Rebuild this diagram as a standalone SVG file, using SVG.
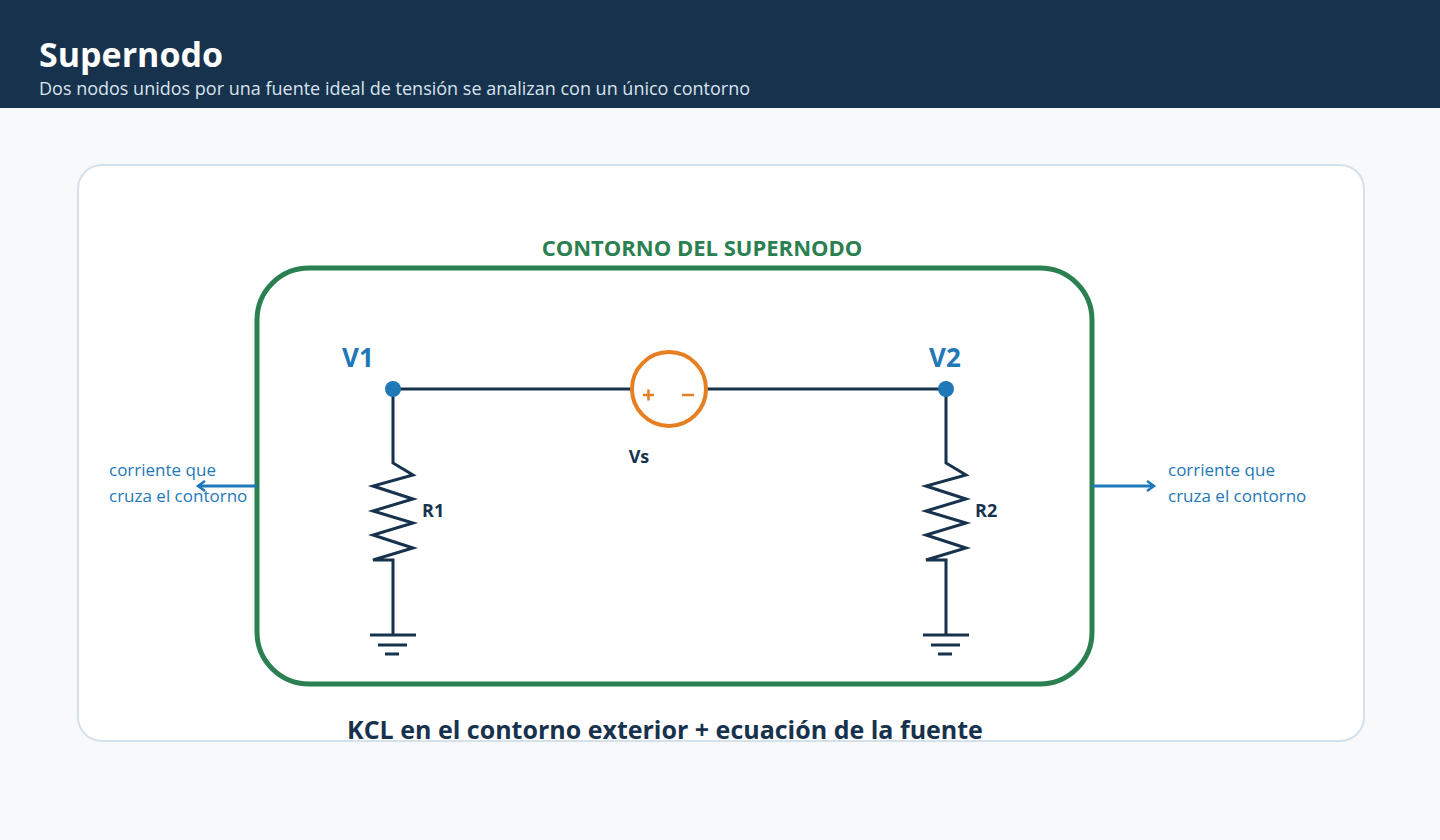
<svg xmlns="http://www.w3.org/2000/svg" width="1440" height="840" viewBox="0 0 1440 840">
<defs>
<style>
.w{stroke:#17324d;stroke-width:3;fill:none}
.lbl{font-family:"Open Sans","Noto Sans",sans-serif;font-weight:700;fill:#17324d}
.blue{font-family:"Open Sans","Noto Sans",sans-serif;fill:#1f78b8;font-size:17px}
.arr{stroke:#1f78b8;stroke-width:3;fill:none}
</style>
<marker id="ah" markerWidth="12" markerHeight="12" refX="9" refY="6" orient="auto" markerUnits="userSpaceOnUse"><path d="M2,1 L9,6 L2,11" fill="none" stroke="#1f78b8" stroke-width="2.5"/></marker>
</defs>
<rect width="1440" height="840" fill="#f7f9fb"/>
<rect width="1440" height="108" fill="#17324d"/>
<text x="39" y="67" font-family="Open Sans,Noto Sans,sans-serif" font-weight="700" font-size="34" fill="#fff">Supernodo</text>
<text x="39" y="95" font-family="Open Sans,Noto Sans,sans-serif" font-size="18" fill="#d8e3ee">Dos nodos unidos por una fuente ideal de tensión se analizan con un único contorno</text>
<rect x="78" y="165" width="1286" height="576" rx="24" fill="#fff" stroke="#d5e1ea" stroke-width="2"/>
<g id="contorno">
<rect x="257" y="268" width="835" height="416" rx="52" fill="none" stroke="#2a8050" stroke-width="5"/>
<text x="702" y="256" text-anchor="middle" font-family="Open Sans,Noto Sans,sans-serif" font-weight="700" font-size="22" fill="#2a8050">CONTORNO DEL SUPERNODO</text>
</g>
<g id="connectors">
<path class="w" d="M393,389 H632 M706,389 H946"/>
<path class="w" d="M393,389 V463 L413,475 L373,486 L413,499 L373,511 L413,523 L373,535 L413,548 L373,560 H393 V635"/>
<path class="w" d="M946,389 V463 L966,475 L926,486 L966,499 L926,511 L966,523 L926,535 L966,548 L926,560 H946 V635"/>
<path class="arr" d="M257,486 H198" marker-end="url(#ah)"/>
<path class="arr" d="M1092,486 H1154" marker-end="url(#ah)"/>
</g>
<g id="gnd1"><path class="w" d="M370,635 H416 M378,645 H407 M385,654 H399"/></g>
<g id="gnd2"><path class="w" d="M923,635 H969 M931,645 H960 M938,654 H952"/></g>
<g id="V1"><circle cx="393" cy="389" r="8" fill="#1f78b8"/><text x="358" y="367" text-anchor="middle" font-family="Open Sans,Noto Sans,sans-serif" font-weight="700" font-size="26" fill="#1f78b8">V1</text></g>
<g id="V2"><circle cx="946" cy="389" r="8" fill="#1f78b8"/><text x="945" y="367" text-anchor="middle" font-family="Open Sans,Noto Sans,sans-serif" font-weight="700" font-size="26" fill="#1f78b8">V2</text></g>
<g id="Vs">
<circle cx="669" cy="389" r="37" fill="#fff" stroke="#e67e22" stroke-width="4"/>
<path d="M643,395 H654 M648.5,389.5 V400.5 M682,395 H694" stroke="#e67e22" stroke-width="2.5"/>
<text x="639" y="463" text-anchor="middle" class="lbl" font-size="18">Vs</text>
</g>
<g id="R1"><text x="422" y="517" class="lbl" font-size="18">R1</text></g>
<g id="R2"><text x="975" y="517" class="lbl" font-size="18">R2</text></g>
<g id="lab-left"><text class="blue" x="109" y="476">corriente que</text><text class="blue" x="109" y="502">cruza el contorno</text></g>
<g id="lab-right"><text class="blue" x="1168" y="476">corriente que</text><text class="blue" x="1168" y="502">cruza el contorno</text></g>
<text x="665" y="739" text-anchor="middle" class="lbl" font-size="25">KCL en el contorno exterior + ecuación de la fuente</text>
</svg>
